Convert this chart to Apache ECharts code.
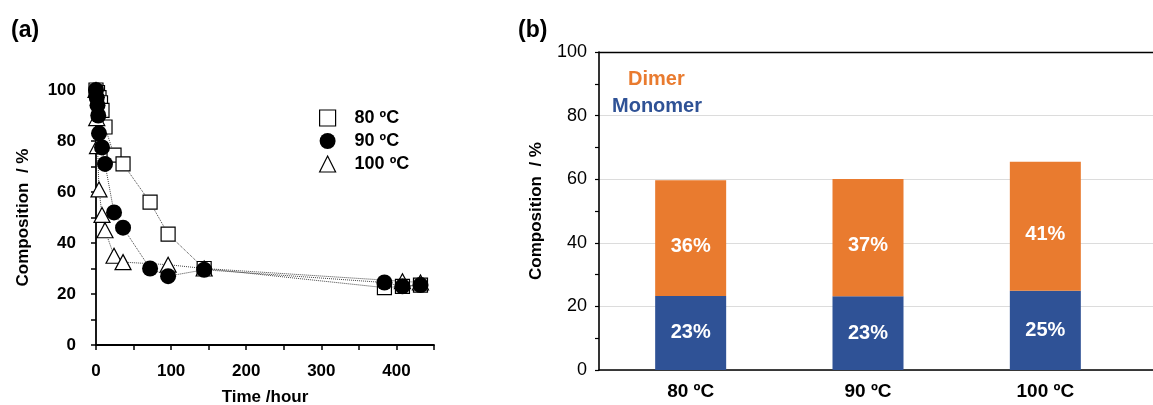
<!DOCTYPE html>
<html>
<head>
<meta charset="utf-8">
<script src="https://cdn.jsdelivr.net/npm/echarts@6/dist/echarts.min.js"></script>
<style>
html,body{margin:0;padding:0;background:#fff;}
#main{width:1153px;height:405px;}
</style>
</head>
<body>
<div id="main"></div>
<script>
// (a) composition vs time
var t80 = [0, 2, 4, 6, 8, 12, 24, 36, 72, 96, 144, 384, 408, 432];
var v80 = [100, 99, 97, 95, 92, 85.5, 74.5, 71, 56, 43.5, 30, 22.5, 23, 23.5];
var t90 = [0, 1, 2, 3, 4, 8, 12, 24, 36, 72, 96, 144, 384, 408, 432];
var v90 = [100, 97, 94, 90, 83, 77.5, 71, 52, 46, 30, 27, 29.5, 24.5, 23, 23.5];
var t100 = [0, 1, 2, 4, 8, 12, 24, 36, 96, 144, 408, 432];
var v100 = [100, 89, 78, 61, 51, 45, 35, 32.5, 31.5, 30, 25, 24.5];

// (b) stacked bars
var cats = ['80 ºC', '90 ºC', '100 ºC'];
var monomer = [23.3, 23.2, 24.9];
var dimer = [36.4, 36.9, 40.6];

var FONT = 'Liberation Sans, Arial, sans-serif';
var ORANGE = '#E97B2F';
var BLUE = '#2F5296';

function pairs(xs, ys) {
	return xs.map(function(x, i) { return [x, ys[i]]; });
}

var chart = echarts.init(document.getElementById('main'));

var dotted = {color: '#444', width: 1, type: 'dotted'};

var option = {
	animation: false,
	textStyle: {fontFamily: FONT},
	title: [
		{text: '(a)', left: 6, top: 14, textStyle: {fontSize: 23, fontWeight: 'bold', color: '#000', fontFamily: FONT}},
		{text: '(b)', left: 513, top: 14, textStyle: {fontSize: 23, fontWeight: 'bold', color: '#000', fontFamily: FONT}}
	],
	legend: [
		{
			orient: 'vertical', left: 314, top: 104,
			itemWidth: 16, itemHeight: 16, itemGap: 5,
			lineStyle: {width: 0, opacity: 0},
			textStyle: {fontSize: 18, fontWeight: 'bold', color: '#000', padding: [0, 0, 0, 14], fontFamily: FONT},
			data: [
				{name: '80 ºC', icon: 'rect', itemStyle: {color: '#fff', borderColor: '#000', borderWidth: 1.2}},
				{name: '90 ºC', icon: 'circle', itemStyle: {color: '#000', borderColor: '#000', borderWidth: 0}},
				{name: '100 ºC', icon: 'triangle', itemStyle: {color: '#fff', borderColor: '#000', borderWidth: 1.2}}
			]
		},
		{
			left: 618, top: 64, itemWidth: 0, itemHeight: 14, icon: 'none',
			textStyle: {fontSize: 20, fontWeight: 'bold', fontFamily: FONT},
			data: [{name: 'Dimer', textStyle: {color: ORANGE}}]
		},
		{
			left: 602, top: 91, itemWidth: 0, itemHeight: 14, icon: 'none',
			textStyle: {fontSize: 20, fontWeight: 'bold', fontFamily: FONT},
			data: [{name: 'Monomer', textStyle: {color: BLUE}}]
		}
	],
	grid: [
		{left: 96, width: 338, top: 90, bottom: 60, outerBoundsMode: 'none', containLabel: false},
		{left: 599, right: 0, top: 52, bottom: 35, outerBoundsMode: 'none', containLabel: false},
		{left: 602, right: 19, top: 52, bottom: 35, outerBoundsMode: 'none', containLabel: false}
	],
	xAxis: [
		{
			gridIndex: 0, type: 'value', min: 0, max: 450, interval: 50,
			name: 'Time /hour', nameLocation: 'middle', nameGap: 44,
			nameTextStyle: {fontSize: 17, fontWeight: 'bold', color: '#000', fontFamily: FONT},
			axisLine: {onZero: false, lineStyle: {color: '#000', width: 1.8}},
			axisTick: {length: 5, lineStyle: {color: '#000', width: 1.5}},
			axisLabel: {
				fontSize: 17, fontWeight: 'bold', color: '#000', margin: 18, fontFamily: FONT,
				formatter: function(v) { return v % 100 === 0 ? v : ''; }
			},
			splitLine: {show: false}
		},
		{
			gridIndex: 1, type: 'value', min: 0, max: 1, position: 'bottom',
			axisLine: {onZero: false, lineStyle: {color: '#000', width: 1.6}},
			axisTick: {show: false}, axisLabel: {show: false}, splitLine: {show: false}
		},
		{
			gridIndex: 1, type: 'value', min: 0, max: 1, position: 'top',
			axisLine: {onZero: false, lineStyle: {color: '#000', width: 1.4}},
			axisTick: {show: false}, axisLabel: {show: false}, splitLine: {show: false}
		},
		{
			gridIndex: 2, type: 'category', data: cats,
			axisLine: {show: false}, axisTick: {show: false},
			axisLabel: {fontSize: 19, fontWeight: 'bold', color: '#000', margin: 12, fontFamily: FONT}
		}
	],
	yAxis: [
		{
			gridIndex: 0, type: 'value', min: 0, max: 100, interval: 10,
			name: 'Composition  / %', nameLocation: 'middle', nameGap: 64,
			nameTextStyle: {fontSize: 17, fontWeight: 'bold', color: '#000', fontFamily: FONT},
			axisLine: {show: true, onZero: false, lineStyle: {color: '#000', width: 1.8}},
			axisTick: {show: true, length: 5, lineStyle: {color: '#000', width: 1.5}},
			axisLabel: {
				fontSize: 17, fontWeight: 'bold', color: '#000', margin: 20, fontFamily: FONT,
				formatter: function(v) { return v % 20 === 0 ? v : ''; }
			},
			splitLine: {show: false}
		},
		{
			gridIndex: 1, type: 'value', min: 0, max: 100, interval: 20,
			name: 'Composition  / %', nameLocation: 'middle', nameGap: 54,
			nameTextStyle: {fontSize: 17, fontWeight: 'bold', color: '#000', fontFamily: FONT},
			axisLine: {show: true, onZero: false, lineStyle: {color: '#000', width: 1.6}},
			axisTick: {show: true, length: 4, lineStyle: {color: '#000', width: 1.2}},
			minorTick: {show: true, splitNumber: 2, length: 4, lineStyle: {color: '#000', width: 1.2}},
			axisLabel: {fontSize: 18, color: '#000', margin: 12, fontFamily: FONT},
			splitLine: {show: true, lineStyle: {color: '#dcdcdc', width: 1.2}}
		},
		{
			gridIndex: 2, type: 'value', min: 0, max: 100, show: false
		}
	],
	series: [
		{
			name: '80 ºC', type: 'line', xAxisIndex: 0, yAxisIndex: 0,
			data: pairs(t80, v80),
			symbol: 'rect', symbolSize: 14,
			itemStyle: {color: '#fff', borderColor: '#000', borderWidth: 1.2},
			lineStyle: dotted
		},
		{
			name: '100 ºC', type: 'line', xAxisIndex: 0, yAxisIndex: 0,
			data: pairs(t100, v100),
			symbol: 'triangle', symbolSize: [16, 15],
			itemStyle: {color: '#fff', borderColor: '#000', borderWidth: 1.2},
			lineStyle: dotted
		},
		{
			name: '90 ºC', type: 'line', xAxisIndex: 0, yAxisIndex: 0,
			data: pairs(t90, v90),
			symbol: 'circle', symbolSize: 16,
			itemStyle: {color: '#000', borderColor: '#000', borderWidth: 0},
			lineStyle: dotted
		},
		{
			name: 'Monomer', type: 'bar', stack: 'b', xAxisIndex: 3, yAxisIndex: 2,
			data: monomer, barWidth: 71,
			itemStyle: {color: BLUE},
			label: {
				show: true, position: 'inside', color: '#fff', fontSize: 20, fontWeight: 'bold', fontFamily: FONT,
				formatter: function(p) { return Math.round(p.value) + '%'; }
			}
		},
		{
			name: 'Dimer', type: 'bar', stack: 'b', xAxisIndex: 3, yAxisIndex: 2,
			data: dimer, barWidth: 71,
			itemStyle: {color: ORANGE},
			label: {
				show: true, position: 'inside', offset: [0, 8], color: '#fff', fontSize: 20, fontWeight: 'bold', fontFamily: FONT,
				formatter: function(p) { return Math.round(p.value) + '%'; }
			}
		}
	]
};

chart.setOption(option);
</script>
</body>
</html>
